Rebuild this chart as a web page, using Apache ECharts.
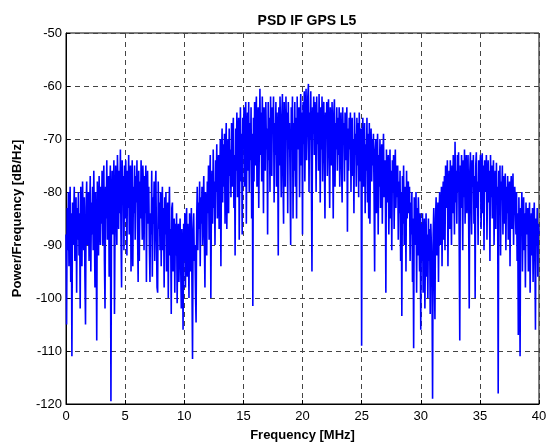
<!DOCTYPE html>
<html><head><meta charset="utf-8">
<script src="https://cdn.jsdelivr.net/npm/echarts@6/dist/echarts.min.js"></script>
<style>html,body{margin:0;padding:0;background:#fff}#c{width:556px;height:447px}</style>
</head><body><div id="c"></div>
<script>
// Frequency sampling: 0.05 MHz steps, 0..40 MHz
var freqStep = 0.05;
// PSD values (dB/Hz), 20 samples per MHz
var psd_00_05 = [
-88,-105,-83,-91,-80,-94,-86,-79,-97,-84,-111,-82,-90,-85,-79,-93,-87,-81,-99,-83,
-89,-80,-92,-84,-102,-79,-87,-94,-78,-85,-91,-81,-96,-105,-83,-78,-90,-86,-80,-93,
-84,-77,-95,-82,-88,-79,-91,-76,-86,-98,-80,-89,-108,-78,-85,-92,-77,-83,-90,-79,
-86,-76,-90,-81,-75,-93,-102,-79,-85,-74,-89,-82,-77,-96,-80,-75,-119.5,-84,-76,-88,
-81,-74,-103,-86,-75,-83,-90,-73,-79,-87,-76,-84,-72,-88,-98,-74,-82,-77,-91,-75];
var psd_05_10 = [
-85,-74,-80,-92,-76,-83,-73,-88,-78,-75,-95,-81,-74,-94,-79,-84,-75,-89,-77,-82,
-74,-87,-97,-76,-93,-78,-85,-74,-82,-89,-75,-79,-91,-77,-84,-75,-97,-80,-76,-86,
-79,-90,-97,-84,-88,-76,-96,-81,-86,-78,-93,-80,-76,-89,-98,-99,-78,-87,-82,-91,
-80,-94,-85,-79,-91,-83,-98,-81,-88,-80,-95,-86,-82,-100,-84,-79,-92,-87,-103,-83,
-82,-95,-88,-85,-99,-86,-92,-84,-101,-89,-86,-97,-90,-85,-94,-102,-87,-91,-106,-86];
var psd_10_15 = [
-93,-84,-98,-88,-83,-96,-86,-91,-100,-84,-89,-95,-83,-97,-111.5,-87,-84,-93,-90,-99,
-104.6,-85,-79,-91,-82,-87,-78,-94,-81,-86,-79,-90,-83,-77,-89,-98,-80,-85,-92,-78,
-84,-75,-89,-79,-73,-100,-81,-76,-86,-72,-83,-78,-90,-74,-80,-71,-85,-77,-73,-87,
-78,-70,-94,-74,-68,-82,-71,-79,-69,-86,-73,-67,-87,-75,-70,-84,-68,-77,-72,-81,
-67,-79,-71,-66,-83,-73,-92,-68,-76,-65,-81,-70,-66,-89,-74,-64,-78,-69,-88,-66];
var psd_15_20 = [
-72,-64,-79,-68,-63,-86,-70,-65,-76,-63,-80,-67,-74,-64,-85,-69,-101.5,-66,-78,-63,
-75,-66,-62,-79,-69,-64,-83,-71,-60.5,-73,-65,-78,-62,-70,-84,-64,-67,-76,-63,-72,
-68,-88,-63,-74,-66,-80,-62,-71,-77,-64,-69,-62,-82,-67,-73,-63,-79,-65,-70,-92,
-64,-75,-62,-70,-81,-66,-61.5,-77,-86,-63,-74,-79,-62,-69,-65,-84,-63,-72,-67,-78,
-90,-64,-71,-62,-85,-67,-76,-63,-79,-66,-85,-62,-72,-68,-64,-81,-70,-61.5,-75,-65];
var psd_20_25 = [
-88,-63,-71,-61,-78,-66,-60.5,-74,-68,-62,-59.6,-80,-65,-70,-61,-77,-95,-64,-69,-62,
-73,-63,-67,-80,-62,-71,-65,-76,-61.5,-69,-82,-64,-72,-62,-78,-66,-63,-74,-85,-65,
-70,-63,-77,-66,-62.5,-73,-83,-64,-68,-75,-63,-71,-85,-65,-62.5,-79,-67,-72,-64,-76,
-66,-73,-64,-79,-69,-65,-75,-82,-64,-71,-67,-78,-65,-74,-70,-64,-87.5,-68,-76,-66,
-72,-65,-80,-68,-66,-77,-70,-84,-65,-73,-69,-79,-66,-75,-67,-81,-65,-71,-78,-68];
var psd_25_30 = [
-109,-70,-66,-79,-73,-67,-84,-71,-76,-66,-82,-69,-85,-67,-86,-72,-68,-78,-70,-75,
-69,-80,-95,-72,-70,-84,-76,-69,-88,-73,-79,-70,-83,-75,-71,-86,-74,-69,-81,-77,
-74,-99,-72,-82,-77,-73,-88,-79,-72,-85,-76,-91,-74,-80,-73,-87,-78,-72,-83,-75,
-81,-75,-89,-78,-84,-76,-93,-80,-103.4,-77,-86,-75,-90,-82,-79,-95,-76,-85,-81,-78,
-84,-79,-93,-82,-88,-80,-97,-85,-109.5,-81,-90,-86,-80,-99,-83,-92,-81,-87,-95,-84];
var psd_30_35 = [
-106,-86,-93,-84,-99,-89,-85,-102,-91,-84,-96,-88,-100,-85,-93,-87,-103,-86,-90,-97,
-119,-88,-83,-95,-104,-85,-81,-92,-87,-82,-97,-84,-80,-90,-86,-79,-94,-82,-78,-89,
-77,-91,-75,-83,-79,-74,-94,-81,-76,-87,-74,-80,-90,-75,-84,-73,-78,-88,-70.5,-82,
-76,-86,-73,-80,-72.5,-89,-108,-75,-83,-73,-78,-91,-74,-81,-72,-86,-77,-73,-84,-79,
-73,-85,-102,-76,-72.5,-81,-88,-74,-79,-73,-86,-77,-100,-75,-72.5,-83,-78,-90,-74,-80];
var psd_35_40 = [
-76,-73,-87,-79,-72.7,-84,-75,-91,-74,-80,-77,-73,-89,-78,-74,-82,-76,-93,-73,-81,
-75,-85,-78,-74,-90,-80,-76,-87,-74.5,-82,-79,-118,-76,-84,-75,-92,-78,-81,-75,-88,
-77,-86,-80,-76.5,-91,-79,-84,-77,-89,-82,-78,-94,-80,-77,-87,-83,-76.5,-90,-81,-79,
-82,-88,-80,-93,-84,-107,-81,-90,-111,-83,-86,-80,-95,-85,-81,-91,-84,-98,-82,-87,
-88,-83,-95,-86,-82,-99,-89,-84,-92,-83,-97,-87,-82,-91,-106,-85,-90,-83,-96,-86,
-88];

var xTicks = {min:0, max:40, interval:5};
var yTicks = {min:-120, max:-50, interval:10};

var allVals = [].concat(psd_00_05, psd_05_10, psd_10_15, psd_15_20, psd_20_25, psd_25_30, psd_30_35, psd_35_40);
var seriesData = allVals.map(function(v, i){ return [+(i*freqStep).toFixed(3), v]; });

var chart = echarts.init(document.getElementById('c'), null, {renderer:'canvas'});
var font = 'Liberation Sans, Arial, Helvetica, sans-serif';
chart.setOption({
  animation:false,
  backgroundColor:'#fff',
  title:{text:'PSD IF GPS L5', left:302, top:9, textAlign:'center',
    textStyle:{fontFamily:font, fontSize:14, fontWeight:'bold', color:'#000'}},
  grid:{left:66, right:17, top:33, bottom:41, show:true, borderColor:'#000', borderWidth:1, backgroundColor:'#fff'},
  xAxis:{type:'value', min:xTicks.min, max:xTicks.max, interval:xTicks.interval,
    name:'Frequency [MHz]', nameLocation:'middle', nameGap:25,
    nameTextStyle:{fontFamily:font, fontSize:13, fontWeight:'bold', color:'#000'},
    axisLine:{lineStyle:{color:'#000'}},
    axisTick:{inside:true, length:4, lineStyle:{color:'#000'}},
    axisLabel:{fontFamily:font, fontSize:13, color:'#000', margin:6},
    splitLine:{show:true, lineStyle:{color:'#444', type:[5,4], width:1}}},
  yAxis:{type:'value', min:yTicks.min, max:yTicks.max, interval:yTicks.interval,
    name:'Power/Frequency [dB/Hz]', nameLocation:'middle', nameGap:42,
    nameTextStyle:{fontFamily:font, fontSize:13, fontWeight:'bold', color:'#000'},
    axisLine:{lineStyle:{color:'#000'}},
    axisTick:{inside:true, length:4, lineStyle:{color:'#000'}},
    axisLabel:{fontFamily:font, fontSize:13, color:'#000', margin:4},
    splitLine:{show:true, lineStyle:{color:'#444', type:[5,4], width:1}}},
  series:[{type:'line', data:seriesData, showSymbol:false, symbol:'none', sampling:null,
    lineStyle:{color:'#0000ff', width:1.6}, z:3}]
});
</script></body></html>
